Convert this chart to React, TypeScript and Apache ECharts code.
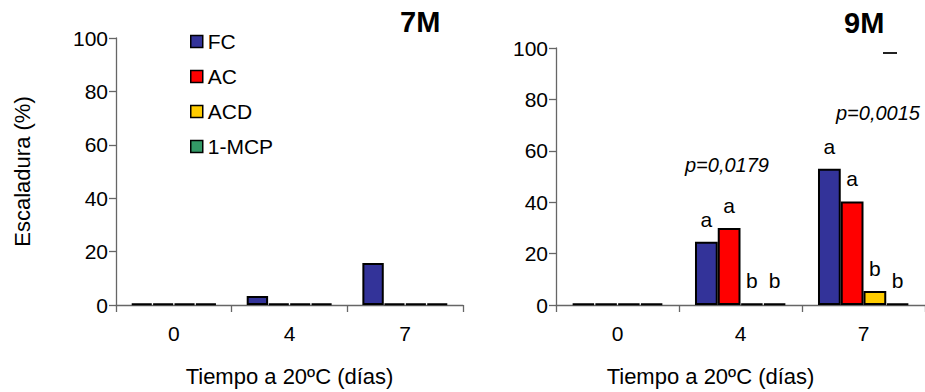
import React, { useEffect, useRef } from "react";
import * as echarts from "echarts";

const categories = ["0", "4", "7"];
const seriesNames = ["FC", "AC", "ACD", "1-MCP"];
const seriesColors = ["#333399", "#FF0000", "#FFCC00", "#339966"];

// 7M panel
const fc7M = [0.5, 3.4, 15.7];
const ac7M = [0.5, 0.5, 0.5];
const acd7M = [0.5, 0.5, 0.5];
const mcp7M = [0.5, 0.5, 0.5];

// 9M panel
const fc9M = [0.5, 24.6, 53];
const ac9M = [0.5, 30, 40.3];
const acd9M = [0.5, 0.5, 5.4];
const mcp9M = [0.5, 0.5, 0.5];

// significance letters for 9M
const fc9MLetters = ["", "a", "a"];
const ac9MLetters = ["", "a", "a"];
const acd9MLetters = ["", "b", "b"];
const mcp9MLetters = ["", "b", "b"];

const yTicks = { min: 0, max: 100, interval: 20 };
const pValues = ["p=0,0179", "p=0,0015"];
const panelTitles = ["7M", "9M"];
const xAxisName = "Tiempo a 20ºC (días)";
const yAxisName = "Escaladura (%)";

const FONT = "'Liberation Sans', Arial, sans-serif";

export default function App() {
  const ref = useRef<HTMLDivElement>(null);

  useEffect(() => {
    if (!ref.current) return;
    const chart = echarts.init(ref.current, undefined, { renderer: "svg" });

    const axisLine = { show: true, lineStyle: { color: "#666", width: 1.3 } };
    const axisTick = { show: true, length: 7, lineStyle: { color: "#666", width: 1.3 } };

    const makeX = (gridIndex: number, padRight: number) => ({
      type: "category",
      gridIndex,
      data: categories,
      axisLine,
      axisTick: { ...axisTick, inside: false },
      axisLabel: { fontSize: 21, color: "#000", margin: 18, fontFamily: FONT },
      name: xAxisName,
      nameLocation: "middle",
      nameGap: 60,
      nameTextStyle: { fontSize: 22, color: "#000", fontFamily: FONT, padding: [0, padRight, 0, 0] },
    });

    const makeY = (gridIndex: number, withName: boolean) => ({
      type: "value",
      gridIndex,
      min: yTicks.min,
      max: yTicks.max,
      interval: yTicks.interval,
      axisLine,
      axisTick,
      splitLine: { show: false },
      axisLabel: { fontSize: 21, color: "#000", margin: 8, fontFamily: FONT },
      name: withName ? yAxisName : "",
      nameLocation: "middle",
      nameRotate: 90,
      nameGap: 83,
      nameTextStyle: { fontSize: 22, color: "#000", fontFamily: FONT },
    });

    const bar = (
      name: string,
      color: string,
      data: number[],
      gridIdx: number,
      letters?: string[]
    ) => ({
      type: "bar",
      name,
      xAxisIndex: gridIdx,
      yAxisIndex: gridIdx,
      data,
      barGap: "0%",
      barCategoryGap: "26%",
      itemStyle: { color, borderColor: "#000", borderWidth: 2 },
      label: letters
        ? {
            show: true,
            position: "top",
            distance: 12,
            fontSize: 21,
            color: "#000",
            fontFamily: FONT,
            formatter: (p: any) => letters[p.dataIndex],
          }
        : { show: false },
      emphasis: { disabled: true },
    });

    const data7M = [fc7M, ac7M, acd7M, mcp7M];
    const data9M = [fc9M, ac9M, acd9M, mcp9M];
    const letters9M = [fc9MLetters, ac9MLetters, acd9MLetters, mcp9MLetters];

    const series: any[] = [];
    seriesNames.forEach((n, i) => series.push(bar(n, seriesColors[i], data7M[i], 0)));
    seriesNames.forEach((n, i) => series.push(bar(n, seriesColors[i], data9M[i], 1, letters9M[i])));

    chart.setOption({
      animation: false,
      textStyle: { fontFamily: FONT },
      grid: [
        { left: 116, top: 38, width: 347, height: 267 },
        { left: 556, top: 48, width: 378, height: 260 },
      ],
      xAxis: [makeX(0, 0), makeX(1, 60)],
      yAxis: [makeY(0, true), makeY(1, false)],
      legend: {
        orient: "vertical",
        left: 185,
        top: 26,
        itemWidth: 12,
        itemHeight: 12,
        itemGap: 14,
        icon: "rect",
        data: seriesNames,
        textStyle: { fontSize: 21, color: "#000", fontFamily: FONT },
        itemStyle: { borderColor: "#000", borderWidth: 1.5 },
        selectedMode: false,
      },
      graphic: [
        {
          type: "text",
          left: 400,
          top: 7,
          style: { text: panelTitles[0], font: `bold 29px ${FONT}`, fill: "#000" },
        },
        {
          type: "text",
          left: 844,
          top: 8,
          style: { text: panelTitles[1], font: `bold 29px ${FONT}`, fill: "#000" },
        },
        {
          type: "text",
          left: 685,
          top: 155,
          style: { text: pValues[0], font: `italic 20px ${FONT}`, fill: "#000" },
        },
        {
          type: "text",
          left: 836,
          top: 103,
          style: { text: pValues[1], font: `italic 20px ${FONT}`, fill: "#000" },
        },
        {
          type: "line",
          shape: { x1: 883, y1: 53, x2: 897, y2: 53 },
          style: { stroke: "#222", lineWidth: 2 },
        },
      ],
      series,
    });

    return () => chart.dispose();
  }, []);

  return (
    <div
      ref={ref}
      style={{ position: "fixed", left: 0, top: 0, width: 925, height: 392, background: "#fff" }}
    />
  );
}
